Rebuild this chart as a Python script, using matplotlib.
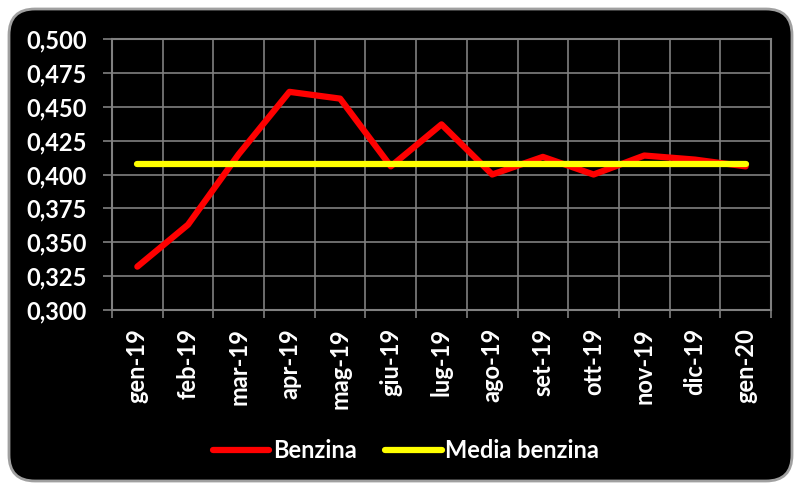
import numpy as np
import matplotlib.pyplot as plt
from matplotlib.patches import FancyBboxPatch

mesi = ['gen-19', 'feb-19', 'mar-19', 'apr-19', 'mag-19', 'giu-19', 'lug-19',
        'ago-19', 'set-19', 'ott-19', 'nov-19', 'dic-19', 'gen-20']
benzina = [0.332, 0.363, 0.415, 0.461, 0.456, 0.406, 0.437,
           0.400, 0.413, 0.400, 0.414, 0.411, 0.406]
media = [0.408] * 13
yticks = [0.300, 0.325, 0.350, 0.375, 0.400, 0.425, 0.450, 0.475, 0.500]

plt.rcParams['font.family'] = ['Lato', 'DejaVu Sans']
plt.rcParams['font.weight'] = 'bold'
fs = 17

fig = plt.figure(figsize=(7.94, 4.84), dpi=100)
fig.patch.set_facecolor('white')

# black rounded background
bg = fig.add_axes([0, 0, 1, 1])
bg.set_xlim(0, 794)
bg.set_ylim(484, 0)
bg.axis('off')
bg.add_patch(FancyBboxPatch((9, 9), 783, 472, boxstyle='round,pad=0,rounding_size=26',
                            facecolor='black', edgecolor='#a0a0a0', linewidth=2))

ax = fig.add_axes([112/794, 1-310/484, (771-112)/794, (310-39)/484])
ax.set_facecolor('black')
x = np.arange(len(mesi))
ax.plot(x, benzina, color='#ff0000', lw=4.5, solid_capstyle='round',
        solid_joinstyle='round', label='Benzina', zorder=3)
ax.plot(x, media, color='#ffff00', lw=4.5, solid_capstyle='round',
        label='Media benzina', zorder=4)

ax.set_xlim(-0.5, len(mesi) - 0.5)
ax.set_ylim(0.3, 0.5)
ax.set_yticks(yticks)
ax.set_yticklabels([f'{v:.3f}'.replace('.', ',') for v in yticks])
ax.set_xticks(x)
ax.set_xticklabels(mesi, rotation=90)
ax.set_xticks(np.arange(-0.5, len(mesi)), minor=True)

ax.grid(True, axis='y', which='major', color='#808080', lw=1.2)
ax.grid(True, axis='x', which='minor', color='#808080', lw=1.2)
ax.tick_params(axis='x', which='major', length=0, pad=13, colors='white', labelsize=fs)
ax.tick_params(axis='x', which='minor', length=6, color='#808080', width=1.2)
ax.tick_params(axis='y', length=6.5, color='#808080', width=1.2, pad=11.5,
               colors='white', labelsize=fs)
for l in ax.get_yticklabels() + ax.get_xticklabels():
    l.set_color('white')
for s in ax.spines.values():
    s.set_color('#808080')
    s.set_linewidth(1.5)

leg = fig.legend(loc='center', bbox_to_anchor=(406/794, 1-451/484), ncol=2,
                 frameon=False, fontsize=fs, handlelength=2.4, handletextpad=0.15,
                 columnspacing=1.2)
for t in leg.get_texts():
    t.set_color('white')

fig.savefig('out.png', dpi=100, facecolor='white')
